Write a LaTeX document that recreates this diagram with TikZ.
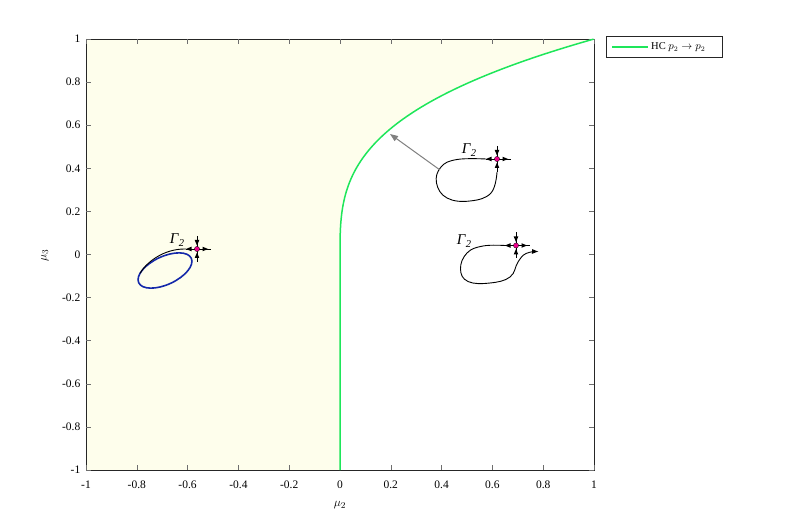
\documentclass[tikz,border=0pt]{standalone}
\usepackage{fontspec}
\setmainfont{Liberation Serif}
\usetikzlibrary{arrows.meta}
\definecolor{hcgreen}{RGB}{30,230,90}
\definecolor{bgyellow}{RGB}{254,254,236}
\definecolor{lcblue}{RGB}{20,40,170}
\definecolor{axgray}{RGB}{38,38,38}
\definecolor{tickgray}{RGB}{110,110,110}
\newcommand{\gamtwo}{{\itshape Γ\kern0.3pt\raisebox{-3.5pt}{\fontsize{10.5}{10.5}\selectfont 2}}}
\tikzset{
  saddle/.pic={
    \draw[line width=0.6] (-11,0) -- (14,0) (0,-13) -- (0,13);
    \fill (-11,0) -- (-5.5,-2.3) -- (-5.5,2.3) -- cycle;
    \fill (11,0) -- (5.5,-2.3) -- (5.5,2.3) -- cycle;
    \fill (0,-3.5) -- (-2.3,-9) -- (2.3,-9) -- cycle;
    \fill (0,3.5) -- (-2.3,9) -- (2.3,9) -- cycle;
    \filldraw[fill=magenta, draw=black, line width=0.3] (0,0) circle (2.6);
  },
  orbit/.style={black, line width=0.9},
  ticklab/.style={font=\fontsize{11.5}{12}\selectfont, inner sep=0pt},
  gamlab/.style={font=\fontsize{15}{15}\selectfont, inner sep=0pt},
}
\begin{document}
\begin{tikzpicture}[x=1pt,y=-1pt]
\useasboundingbox (0,0) rectangle (785,529);
% shaded region
\fill[bgyellow] (86,39) -- plot[domain=1:0,samples=80] ({340+254*\x*\x*\x},{254.5-215.5*\x}) -- (340,470) -- (86,470) -- cycle;
% frame and ticks
\draw[axgray, line width=0.5] (86,39) rectangle (594,470);
\foreach \v [count=\i from 0] in {-1,-0.8,-0.6,-0.4,-0.2,0,0.2,0.4,0.6,0.8,1} {
  \draw[tickgray, line width=0.5] ({86+50.8*\i},470) -- ({86+50.8*\i},465)
        ({86+50.8*\i},39) -- ({86+50.8*\i},44);
  \node[ticklab] (xt\i) at ({86+50.8*\i},485) {\v};
  \draw[tickgray, line width=0.5] (86,{470-43.1*\i}) -- (91,{470-43.1*\i})
        (594,{470-43.1*\i}) -- (589,{470-43.1*\i});
  \node[ticklab, anchor=east] (yt\i) at (80.5,{470-43.1*\i}) {\v};
}
\node[font=\fontsize{13}{13}\selectfont] (xlab) at (340,505) {$\mu_2$};
\node[font=\fontsize{13}{13}\selectfont, rotate=90] (ylab) at (45,255) {$\mu_3$};
% HC curve
\draw[hcgreen, line width=1.5] (340,470) -- plot[domain=0:1,samples=80] ({340+254*\x*\x*\x},{254.5-215.5*\x});
% legend
\node[draw=axgray, fill=white, line width=0.5, minimum width=116, minimum height=21, anchor=north west, inner sep=0pt] (leg) at (606,36) {};
\coordinate (la) at (612,47);
\coordinate (lb) at (648,47);
\draw[hcgreen, line width=1.5] (la) -- (lb);
\node[anchor=west, inner sep=0pt, font=\fontsize{10.5}{11}\selectfont] (legtxt) at (651,47) {HC $p_2\to p_2$};
% left inset
\draw[lcblue, line width=1.6, rotate around={25:(165,270.5)}] (165,270.5) ellipse (29 and 14);
\draw[orbit] (186,249) .. controls (163,248.5) and (146,263) .. (140,273.3);
\pic at (197,249) {saddle};
\node[gamlab] (g1) at (177,240) {\gamtwo};
% middle inset
\draw[orbit] plot[smooth, tension=0.7] coordinates {(486,159) (457,159.5) (441,167) (436.5,183) (447,198) (470,201) (491,193) (497,172)};
\pic at (497,159) {saddle};
\node[gamlab] (g2) at (469,150) {\gamtwo};
\coordinate (gs) at (440,170);
\coordinate (ge) at (390,134);
\draw[gray, line width=1, -{Triangle[length=8,width=6]}] (gs) -- (ge);
% bottom right inset
\draw[orbit, -{Triangle[length=6,width=4.5]}] plot[smooth, tension=0.7] coordinates {(505,245.5) (483,246) (467,253) (460.5,269) (468,281.5) (490,283) (510,277) (518,262) (526,253.5) (538,251.5)};
\pic at (516,245.5) {saddle};
\node[gamlab] (g3) at (464,241) {\gamtwo};
\end{tikzpicture}
\end{document}
